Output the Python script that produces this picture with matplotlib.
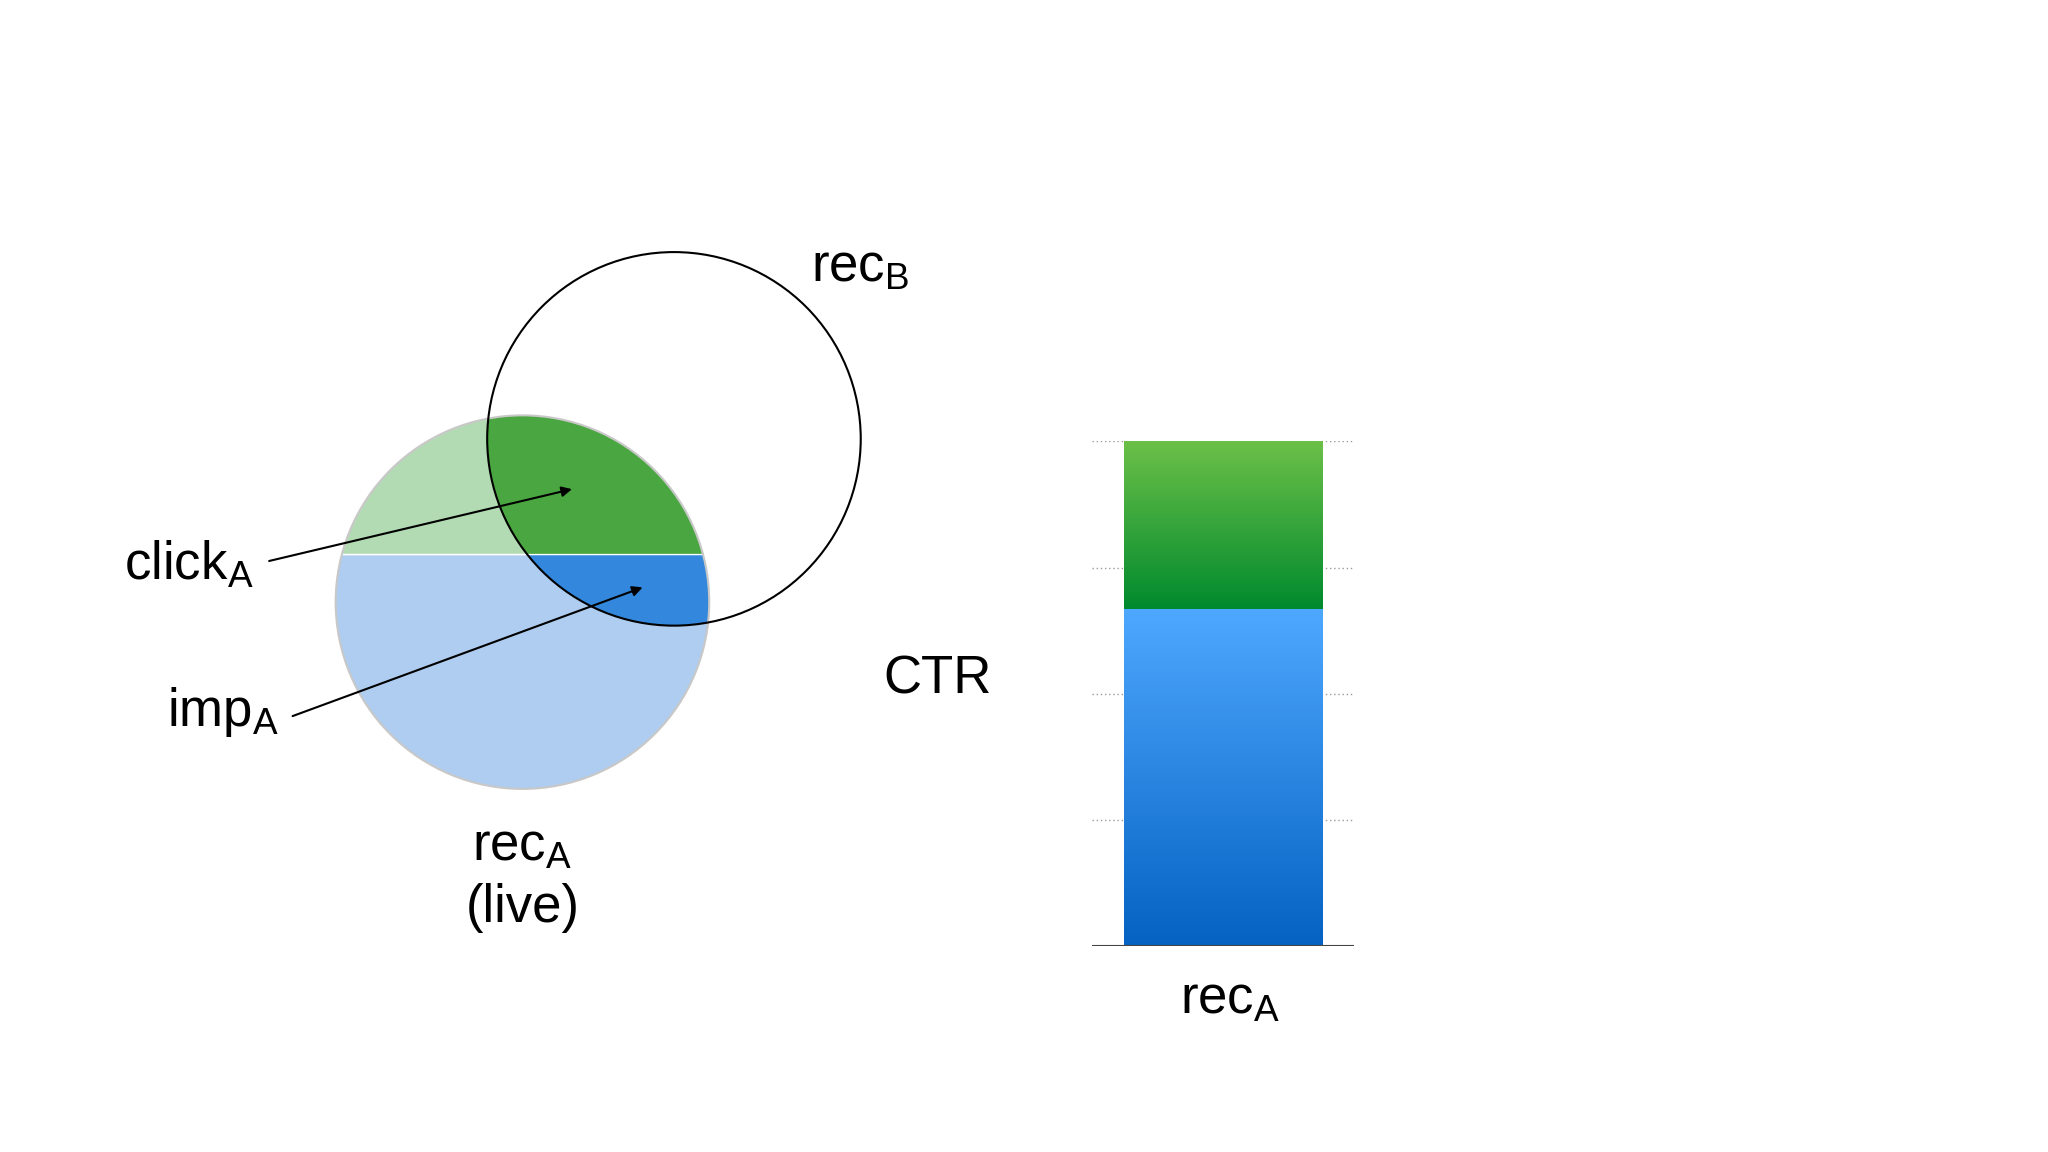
import numpy as np
import matplotlib
matplotlib.use("Agg")
import matplotlib.pyplot as plt
from matplotlib.patches import Circle, Polygon
from matplotlib.colors import LinearSegmentedColormap

plt.rcParams['font.family'] = ['Liberation Sans', 'DejaVu Sans']
plt.rcParams['mathtext.fontset'] = 'custom'
plt.rcParams['mathtext.rm'] = 'Liberation Sans'

# data
bar_category = ["rec$_\\mathregular{A}$"]
imp_value = [2.67]
click_value = [1.33]
grid_levels = [1, 2, 3, 4]

fig = plt.figure(figsize=(20.48, 11.52), dpi=100)
ax = fig.add_axes([0, 0, 1, 1])
ax.set_xlim(0, 1568); ax.set_ylim(882, 0); ax.axis('off')

cA = (400, 461); rA = 143
cB = (516, 336); rB = 143
split = 424
t = np.linspace(0, 2*np.pi, 721)
px = cA[0] + rA*np.cos(t); py = cA[1] + rA*np.sin(t)

def half(top):
    m = py <= split if top else py >= split
    pts = np.column_stack([px[m], py[m]])
    ang = np.arctan2(pts[:, 1]-cA[1], pts[:, 0]-cA[0])
    return pts[np.argsort(ang)]

clipB = Circle(cB, rB, transform=ax.transData)
for top, light, dark in [(True, '#b3dbb3', '#4aa640'), (False, '#aecdf0', '#3388dd')]:
    pts = half(top)
    ax.add_patch(Polygon(pts, closed=True, fc=light, ec='none', zorder=1))
    p = Polygon(pts, closed=True, fc=dark, ec='none', zorder=2)
    ax.add_patch(p); p.set_clip_path(clipB)
ax.add_patch(Circle(cA, rA, fc='none', ec='#c8c8c8', lw=1.5, zorder=3))
ax.add_patch(Circle(cB, rB, fc='none', ec='black', lw=1.5, zorder=4))

fs = 38
ax.text(621, 205, r"rec$_\mathregular{B}$", fontsize=fs, va='center')
ax.text(95, 432, r"click$_\mathregular{A}$", fontsize=fs, va='center')
ax.text(128, 545, r"imp$_\mathregular{A}$", fontsize=fs, va='center')
ax.text(400, 648, r"rec$_\mathregular{A}$", fontsize=fs, va='center', ha='center')
ax.text(400, 695, "(live)", fontsize=fs, va='center', ha='center')
ax.text(718, 520, "CTR", fontsize=fs, va='center', ha='center')
ax.text(942, 765, bar_category[0], fontsize=fs, va='center', ha='center')

ap = dict(arrowstyle='-|>', color='black', lw=1.5, mutation_scale=15)
ax.annotate("", xy=(440, 374), xytext=(204, 430), arrowprops=ap, zorder=5)
ax.annotate("", xy=(494, 449), xytext=(222, 549), arrowprops=ap, zorder=5)

# bar chart
bx = fig.add_axes([836/1568, 1-724/882, 201/1568, 386/882])
for s in bx.spines.values(): s.set_visible(False)
bx.set_xticks([]); bx.set_yticks([])
for g in grid_levels:
    bx.axhline(g, color='#999999', lw=1, ls=(0, (1, 2)), zorder=0)
bx.axhline(0, color='#444444', lw=1.5, zorder=3)
w = 1.0
b1 = bx.bar(0, imp_value, width=w, color='none', zorder=1)[0]
b2 = bx.bar(0, click_value, bottom=imp_value, width=w, color='none', zorder=1)[0]
cb = LinearSegmentedColormap.from_list('b', ['#0562c2', '#4ea8ff'])
cg = LinearSegmentedColormap.from_list('g', ['#008a2e', '#6cc048'])
grad = np.linspace(0, 1, 256).reshape(-1, 1)
im1 = bx.imshow(grad, cmap=cb, aspect='auto', origin='lower',
                extent=[-w/2, w/2, 0, imp_value[0]], zorder=2)
im1.set_clip_path(b1)
im2 = bx.imshow(grad, cmap=cg, aspect='auto', origin='lower',
                extent=[-w/2, w/2, imp_value[0], imp_value[0]+click_value[0]], zorder=2)
im2.set_clip_path(b2)
bx.set_xlim(-0.66, 0.66); bx.set_ylim(0, 4)

fig.savefig("out.png", dpi=100)
